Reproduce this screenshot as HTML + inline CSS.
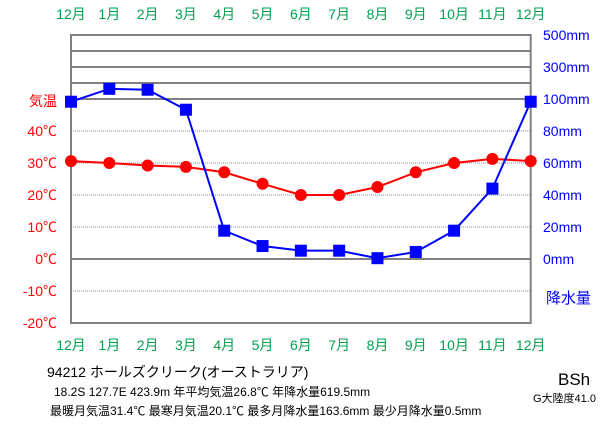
<!DOCTYPE html>
<html><head><meta charset="utf-8"><style>
body{margin:0;background:#fff;width:611px;height:425px;overflow:hidden;font-family:"Liberation Sans","Noto Sans CJK JP",sans-serif}
svg text{font-family:"Liberation Sans","Noto Sans CJK JP",sans-serif}
</style></head><body>
<svg id="chart" width="611" height="425" xmlns="http://www.w3.org/2000/svg">
<g id="grid"></g>
<g id="series"></g>
<g id="labels"></g>
<g font-size="13" fill="#000">
<text x="47" y="377" font-size="14">94212  ホールズクリーク(オーストラリア)</text>
<text x="54" y="396" font-size="12">18.2S  127.7E  423.9m 年平均気温26.8℃  年降水量619.5mm</text>
<text x="50" y="415" font-size="12">最暖月気温31.4℃ 最寒月気温20.1℃ 最多月降水量163.6mm 最少月降水量0.5mm</text>
<text x="558" y="385" font-size="17">BSh</text>
<text x="533" y="402" font-size="11">G大陸度41.0</text>
</g>
</svg>
<script>
const months=["12月","1月","2月","3月","4月","5月","6月","7月","8月","9月","10月","11月","12月"];
const temps=[30.6,30.0,29.2,28.8,27.1,23.5,20.0,20.0,22.5,27.1,30.0,31.3,30.6];
const precip=[98.3,163.6,158,93.3,17.7,8.1,5.2,5.2,0.5,4.4,17.7,44,98.3];
const tempTicks=[-20,-10,0,10,20,30,40];
const precipTicks=[0,20,40,60,80,100,300,500];
const precipHigh=[100,200,300,400,500];
const NS="http://www.w3.org/2000/svg";
const L=71,R=530.7,T=35,B=323;
function x(i){return L+(R-L)*i/(months.length-1);}
function yT(t){return 259-t*3.2;}
function yP(p){return p<=100?259-p*1.6:99-(p-100)*0.16;}
function mk(tag,attrs,parent,txt){const e=document.createElementNS(NS,tag);for(const k in attrs)e.setAttribute(k,attrs[k]);if(txt!==undefined)e.textContent=txt;parent.appendChild(e);return e;}
const grid=document.getElementById('grid'),ser=document.getElementById('series'),lab=document.getElementById('labels');
tempTicks.forEach(t=>{if(t===0||t===-20)return;const l=mk('line',{x1:L,x2:R,y1:yT(t),y2:yT(t),stroke:'#888','stroke-dasharray':'1,1','stroke-width':1},grid);

});
precipHigh.forEach(p=>{const l=mk('line',{x1:L,x2:R,y1:yP(p),y2:yP(p),stroke:'#808080','stroke-width':2},grid);

});
const z=mk('line',{x1:L,x2:R,y1:yT(0),y2:yT(0),stroke:'#808080','stroke-width':2},grid);


const fr=mk('rect',{x:L,y:T,width:R-L,height:B-T,fill:'none',stroke:'#808080','stroke-width':2},grid);


// temp line
const tl=mk('polyline',{points:temps.map((t,i)=>x(i)+','+yT(t)).join(' '),fill:'none',stroke:'#f00','stroke-width':2},ser);


const pl=mk('polyline',{points:precip.map((p,i)=>x(i)+','+yP(p)).join(' '),fill:'none',stroke:'#00f','stroke-width':2},ser);


temps.forEach((t,i)=>{const c=mk('circle',{cx:x(i),cy:yT(t),r:6,fill:'#f00'},ser);

});
precip.forEach((p,i)=>{const s=mk('rect',{x:x(i)-6,y:yP(p)-6,width:12,height:12,fill:'#00f'},ser);

});
months.forEach((m,i)=>{[19,350].forEach(yy=>{const t=mk('text',{x:x(i),y:yy,'text-anchor':'middle','font-size':14,fill:'#00a050'},lab,m);

});});
tempTicks.forEach(v=>{const t=mk('text',{x:57,y:yT(v)+5,'text-anchor':'end','font-size':14,fill:'#f00'},lab,v+'℃');

});
const tt=mk('text',{x:57,y:106,'text-anchor':'end','font-size':14,fill:'#f00'},lab,'気温');


precipTicks.forEach(v=>{const t=mk('text',{x:543,y:yP(v)+5,'font-size':14,fill:'#00f'},lab,v+'mm');

});
const pt=mk('text',{x:546,y:303,'font-size':15,fill:'#00f'},lab,'降水量');


</script>
</body></html>
